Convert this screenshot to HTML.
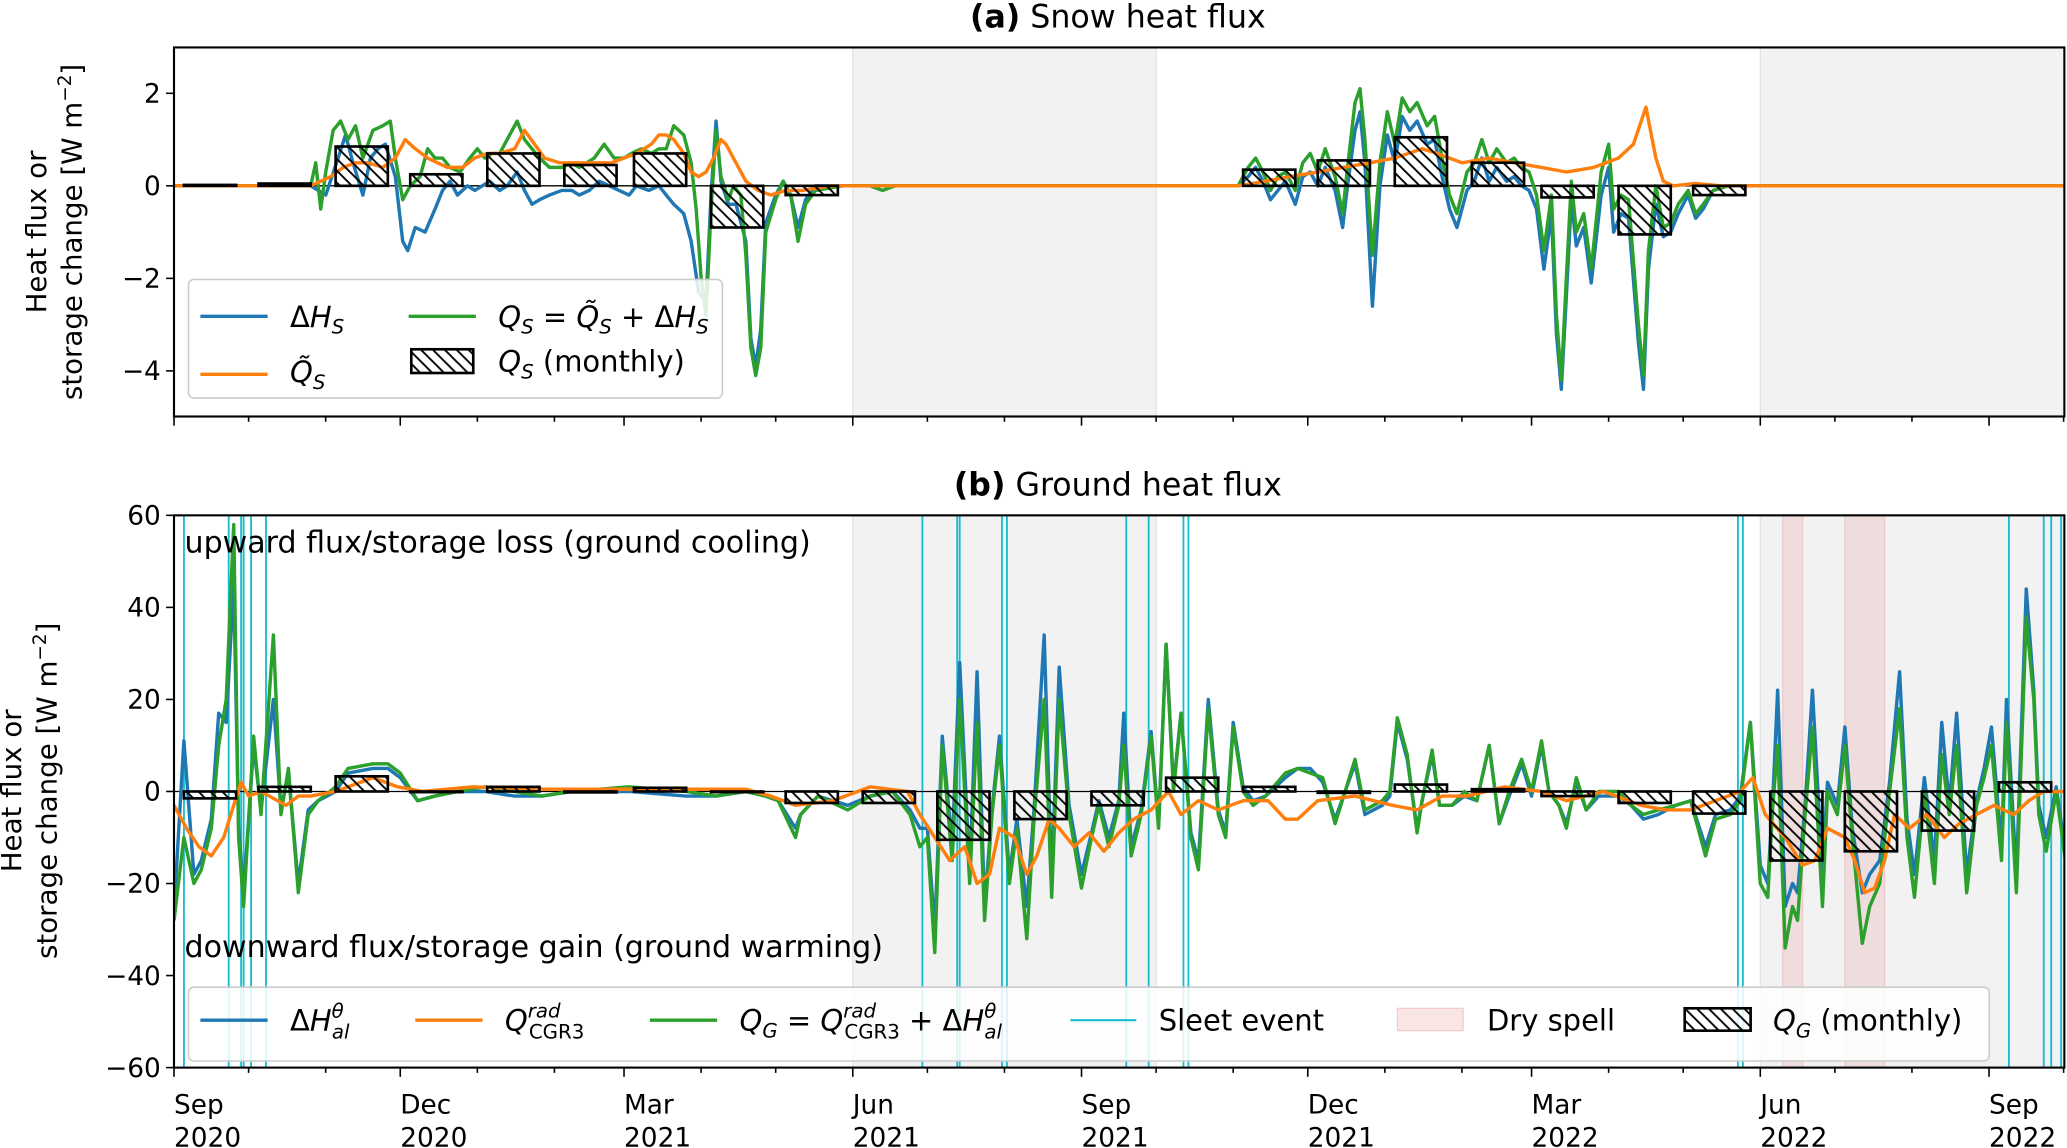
<!DOCTYPE html>
<html><head><meta charset="utf-8"><style>
html,body{margin:0;padding:0;background:#fff}
svg{display:block}
text{font-family:"DejaVu Sans","Liberation Sans",sans-serif;fill:#000}
</style></head><body>
<svg id="chart" xmlns="http://www.w3.org/2000/svg" width="2067" height="1148" viewBox="0 0 1568 871" preserveAspectRatio="none">
<defs>
<pattern id="hatch" patternUnits="userSpaceOnUse" width="9" height="9">
<path d="M-2,-2 L11,11 M-2,7 L2,11 M7,-2 L11,2" stroke="#000" stroke-width="1.4"/>
</pattern>
<clipPath id="clipA"><rect x="132" y="36" width="1434" height="280"/></clipPath>
<clipPath id="clipB"><rect x="132" y="391" width="1434" height="419"/></clipPath>
</defs>
<g id="panelA"></g>
<g id="panelB"></g>
</svg>
<script>
// ---------- data (days since 2020-09-01) ----------
const monthBarsA = [0.02,0.05,0.85,0.25,0.7,0.45,0.7,-0.9,-0.2,null,null,null,null,null,0.35,0.55,1.05,0.5,-0.25,-1.05,-0.2,null,null,null,null];
const monthBarsB = [-1.5,1,3.3,-0.1,1,-0.2,0.8,0,-2.5,-2.5,-10.5,-6,-3,3,1,-0.3,1.5,0.5,-1,-2.5,-4.8,-15,-13,-8.5,2];
const grayPeriods = [[273,395],[638,761]];
const drySpells = [[647,655],[672,688]];
const sleetDays = [4,22,27,28,31,37,301,315,316,333,335,383,392,406,408,629,631,738,752,755,759];

const aGreenDays = [0,55,57,59,61,64,67,70,73,76,80,84,87,89,92,95,99,102,105,108,111,115,119,122,125,128,131,134,138,141,144,147,151,156,160,163,166,169,173,177,181,184,188,192,195,198,201,205,208,210,212,214,216,218,220,223,225,228,230,232,234,236,238,242,245,248,251,254,258,269,280,285,290,
428,432,435,438,441,444,447,451,454,457,460,463,467,470,472,475,477,479,482,485,488,491,494,497,500,504,507,510,513,516,520,523,526,529,532,536,539,542,545,548,551,554,556,558,560,562,564,567,570,574,577,579,582,585,589,591,593,596,599,602,605,609,612,615,619,625,640,761];
const aGreenVals = [0,0,0.5,-0.5,0.3,1.2,1.4,1.0,1.3,0.6,1.2,1.3,1.4,0.6,-0.3,0.0,0.2,0.8,0.6,0.6,0.4,0.3,0.6,0.8,0.6,0.7,0.7,1.0,1.4,1.0,0.8,0.6,0.4,0.4,0.5,0.4,0.5,0.6,0.9,0.6,0.6,0.7,0.8,0.7,0.8,0.8,1.3,1.1,0.5,-0.5,-2.0,-2.8,-0.5,1.2,0.2,-0.3,0.0,-0.2,-1.5,-3.5,-4.1,-3.5,-1.0,-0.3,0.1,-0.2,-1.2,-0.4,-0.1,0.0,0.0,-0.1,0,
0,0.4,0.6,0.3,-0.1,0.2,0.3,-0.1,0.5,0.7,0.3,0.8,0.2,-0.6,0.4,1.8,2.1,1.0,-1.5,0.5,1.6,0.9,1.9,1.6,1.8,1.3,1.5,0.6,-0.2,-0.6,0.3,0.5,1.0,0.5,0.8,0.5,0.6,0.4,0.3,-0.2,-1.4,-0.2,-2.8,-4.2,-2.0,0.1,-1.0,-0.6,-1.8,0.3,0.9,-0.5,-0.2,-0.3,-3.0,-4.1,-1.4,0.0,-0.9,-0.8,-0.4,-0.1,-0.6,-0.4,-0.1,0,0,0];
const aBlueDays = [0,55,61,66,69,72,76,79,82,85,89,92,94,97,101,105,108,111,114,118,121,124,127,131,134,138,141,144,147,151,156,160,163,167,171,175,179,183,186,191,195,198,201,205,208,211,214,216,218,220,223,226,230,232,234,236,238,242,245,248,251,254,258,290,
428,432,435,438,441,444,447,451,454,457,460,463,467,470,472,475,477,479,482,485,488,491,494,497,500,504,507,510,513,516,520,523,526,529,532,536,539,542,545,548,551,554,556,558,560,562,564,567,570,574,577,579,582,585,589,591,593,596,599,602,605,609,612,615,619,625,640,761];
const aBlueVals = [0,0,-0.2,0.6,1.1,0.5,-0.2,0.6,0.8,0.9,0.2,-1.2,-1.4,-0.9,-1.0,-0.5,-0.1,0.1,-0.2,0.0,-0.1,0.0,0.1,-0.1,0.0,0.3,-0.1,-0.4,-0.3,-0.2,-0.1,-0.1,-0.2,-0.1,0.1,0.0,-0.1,-0.2,0.0,-0.1,0.0,-0.2,-0.4,-0.6,-1.2,-2.3,-2.5,-0.2,1.4,0.1,-0.4,-0.4,-1.2,-3.3,-3.9,-3.1,-0.8,-0.2,0.1,-0.2,-0.9,-0.3,0,0,
0,0.2,0.4,0.1,-0.3,-0.1,0.1,-0.4,0.2,0.3,0.0,0.4,-0.1,-0.9,0.0,1.2,1.6,0.5,-2.6,0.0,1.1,0.5,1.5,1.2,1.4,0.9,1.0,0.2,-0.5,-0.9,-0.1,0.1,0.6,0.1,0.4,0.1,0.2,0.0,-0.1,-0.5,-1.8,-0.6,-3.2,-4.4,-2.4,-0.3,-1.3,-0.9,-2.1,-0.2,0.4,-1.0,-0.6,-0.7,-3.4,-4.4,-1.8,-0.4,-1.1,-1.0,-0.6,-0.2,-0.7,-0.5,-0.1,0,0,0];
const aOrangeDays = [0,55,59,63,68,73,78,84,89,93,97,102,106,110,116,121,126,131,137,141,145,149,155,160,165,171,176,181,186,192,195,198,201,205,208,211,214,217,220,222,226,230,235,240,246,253,264,290,
428,439,449,460,470,481,491,502,508,518,529,539,550,560,571,581,587,592,596,599,603,612,622,640,761];
const aOrangeVals = [0,0,0.1,0.2,0.4,0.5,0.5,0.4,0.6,1.0,0.8,0.6,0.5,0.4,0.4,0.6,0.7,0.7,0.8,1.2,0.9,0.6,0.5,0.5,0.5,0.5,0.5,0.6,0.7,0.9,1.1,1.1,1.0,0.7,0.3,0.2,0.3,0.6,1.0,0.9,0.5,0.1,-0.1,-0.2,-0.1,-0.1,0,0,
0,0.1,0.2,0.3,0.4,0.5,0.6,0.8,0.7,0.5,0.6,0.5,0.4,0.3,0.4,0.6,0.9,1.7,0.6,0.1,0.0,0.05,0,0,0];

const bDays = [0,4,8,11,15,18,21,24,26,28,32,35,40,43,46,50,54,58,65,70,80,86,91,98,105,114,125,137,148,160,183,206,218,230,238,243,250,252,259,271,280,289,296,300,303,306,309,313,316,320,323,326,329,332,336,339,343,346,350,353,
356,360,365,369,372,376,380,382,385,389,393,396,399,402,405,409,412,416,420,423,426,430,434,439,447,452,457,462,467,471,475,479,486,489,492,496,500,502,506,509,514,519,524,529,533,537,542,546,550,553,557,560,564,568,573,581,586,591,597,604,610,616,620,626,630,634,638,641,643,645,648,651,653,656,659,663,665,669,672,675,679,682,686,690,694,697,700,704,708,711,714,717,721,725,728,731,735,737,741,745,748,750,753,757,761];
const bGreenVals = [-28,-10,-20,-17,-8,10,20,58,-10,-25,12,-5,34,-5,5,-22,-5,-2,1,5,6,6,4,-2,-1,0,1,0,-1,0,1,0,-1,0,-1,-2,-10,-5,-1,-4,-1,0,-5,-12,-10,-35,10,-15,20,-20,15,-28,-5,10,-20,-8,-32,-5,20,-23,
20,-5,-21,-10,-3,-12,-3,10,-14,-5,12,-8,32,0,17,-10,-17,18,-5,-10,14,0,-3,-1,4,5,4,3,-7,0,7,-4,-2,0,16,8,-9,-2,9,-3,-3,0,-2,10,-7,0,7,0,11,0,-3,-8,3,-4,0,0,-3,-5,-4,-3,-2,-14,-6,-5,-2,15,-20,-23,-3,10,-34,-25,-28,-5,14,-25,0,-5,10,-10,-33,-25,-20,0,18,-10,-23,0,-20,8,-5,10,-22,-3,3,10,-15,15,-22,38,20,-5,-13,0,-16];
const bBlueVals = [-26,11,-18,-15,-6,17,15,45,-8,-22,10,-4,20,-4,4,-20,-4,-2,0,4,5,5,3,-2,-1,0,0,-1,-1,0,0,-1,-1,0,-1,-2,-8,-5,-1,-3,-1,0,-4,-8,-8,-30,12,-12,28,-18,26,-25,-4,12,-18,-6,-25,-3,34,-20,
27,-3,-18,-9,-2,-10,-2,17,-12,-4,13,-7,32,1,17,-9,-15,20,-4,-9,15,1,-2,-1,3,5,5,2,-6,0,6,-5,-3,-1,15,7,-8,-2,8,-3,-3,-1,-2,10,-7,-1,6,-1,10,0,-3,-7,2,-4,-1,-1,-3,-6,-5,-3,-2,-12,-5,-4,-1,15,-16,-20,-2,22,-25,-20,-22,-3,22,-18,2,-3,14,-8,-22,-18,-15,2,26,-6,-18,3,-15,15,-3,17,-18,-2,5,14,-12,20,-18,44,22,-3,-10,1,-14];
const bOrangeDays = [0,5,10,15,20,24,27,30,35,45,50,55,65,80,90,100,120,150,200,230,240,250,265,280,295,300,306,312,318,323,328,332,338,343,347,352,356,362,368,374,380,386,393,400,405,412,420,430,440,447,452,460,475,490,500,510,520,535,550,560,575,590,600,610,620,630,635,640,648,655,660,665,672,676,680,684,688,692,698,705,712,718,725,732,740,746,752,761];
const bOrangeVals = [-3,-8,-12,-14,-10,-3,2,-1,0,-3,-1,-1,0,3,1,0,1,0.5,0.5,0.5,-1,-3,-2,1,0,-5,-10,-15,-12,-20,-18,-8,-10,-18,-14,-6,-8,-12,-9,-13,-9,-6,-4,0,-5,-2,-4,-2,-2,-6,-6,-2,-1,-3,-4,-1,-1,1,0,-2,0,-3,-4,-4,-2,0,3,-5,-10,-16,-15,-8,-10,-15,-22,-21,-15,-5,-8,-5,-10,-7,-5,-3,-5,-2,0,0];

const yTicksA = [2,0,-2,-4];
const yTicksB = [60,40,20,0,-20,-40,-60];
const xTickLabels = [["Sep","2020"],["Dec","2020"],["Mar","2021"],["Jun","2021"],["Sep","2021"],["Dec","2021"],["Mar","2022"],["Jun","2022"],["Sep","2022"]];

// ---------- scales ----------
const X0=132, X1=1566, D1=760.3;
const xs = d => X0 + d/D1*(X1-X0);
const ya = v => 141 - v*35.1;
const yb = v => 600.5 - v*3.4917;
const NS="http://www.w3.org/2000/svg";
function mk(tag, attrs, parent){const e=document.createElementNS(NS,tag);for(const k in attrs)e.setAttribute(k,attrs[k]);parent.appendChild(e);return e;}
const monthStart=[];for(let m=0;m<26;m++){monthStart.push(Math.round((Date.UTC(2020,8+m,1)-Date.UTC(2020,8,1))/864e5));}

function linePath(days, vals, yf){const n=Math.min(days.length,vals.length);let d='';for(let i=0;i<n;i++){d+=(i?'L':'M')+xs(days[i]).toFixed(1)+','+yf(vals[i]).toFixed(1);}return d;}

function panel(g, top, bot, yf, clip, bars, series, ticks, isB){
  const bg = mk('g',{'clip-path':'url(#'+clip+')'},g);
  
  
  grayPeriods.forEach(p=>{const r=mk('rect',{x:xs(p[0]),y:top,width:xs(p[1])-xs(p[0]),height:bot-top,fill:'#f2f2f2',stroke:'#e4e4e4','stroke-width':1},bg);
    
    });
  if(isB){
    drySpells.forEach(p=>{const r=mk('rect',{x:xs(p[0]),y:top,width:xs(p[1])-xs(p[0]),height:bot-top,fill:'rgba(214,39,40,0.1)',stroke:'rgba(214,39,40,0.15)','stroke-width':1},bg);
      
      });
    sleetDays.forEach(d=>{const l=mk('line',{x1:xs(d),x2:xs(d),y1:top,y2:bot,stroke:'#17becf','stroke-width':1.4},bg);
      
      });
  }
  const z=mk('line',{x1:X0,x2:X1,y1:yf(0),y2:yf(0),stroke:'#000','stroke-width':1},bg);
  
  
  series.forEach(s=>{const p=mk('path',{d:linePath(s.days,s.vals,yf),fill:'none',stroke:s.color,'stroke-width':2.6,'stroke-linejoin':'round'},bg);
    
    });
  bars.forEach((v,i)=>{ if(v===null)return;
    const x=xs(monthStart[i]+4), w=xs(monthStart[i]+25)-x, y0=yf(0), y1=yf(v);
    const r=mk('rect',{x:x,y:Math.min(y0,y1),width:w,height:Math.max(Math.abs(y1-y0),0.5),fill:'url(#hatch)',stroke:'#000','stroke-width':2},bg);
    
    });
  const fr=mk('rect',{x:X0,y:top,width:X1-X0,height:bot-top,fill:'none',stroke:'#000','stroke-width':1.6},g);
  
  
  ticks.forEach(t=>{const y=yf(t);
    mk('line',{x1:X0-6,x2:X0,y1:y,y2:y,stroke:'#000','stroke-width':1.2},g);
    const tx=mk('text',{x:X0-10,y:y+7,'text-anchor':'end','font-size':20},g);
    tx.textContent=String(t).replace('-','\u2212');
    
    });
  monthStart.forEach((d,i)=>{ if(d>D1)return; const x=xs(d); const major=(i%3===0);
    mk('line',{x1:x,x2:x,y1:bot,y2:bot+(major?7:4),stroke:'#000','stroke-width':1.2},g);
    if(isB && major){const lab=xTickLabels[i/3];
      const t=mk('text',{x:x,y:bot+35,'font-size':20},g); t.textContent=lab[0];
      
      
      const t2=mk('text',{x:x,y:bot+60,'font-size':20},g); t2.textContent=lab[1];
      
      }
  });
}
const gA=document.getElementById('panelA'), gB=document.getElementById('panelB');
panel(gA,36,316,ya,'clipA',monthBarsA,[
  {days:aBlueDays,vals:aBlueVals,color:'#1f77b4',name:'delta-hs-line'},
  {days:aGreenDays,vals:aGreenVals,color:'#2ca02c',name:'qs-line'},
  {days:aOrangeDays,vals:aOrangeVals,color:'#ff7f0e',name:'qs-tilde-line'}],yTicksA,false);
panel(gB,391,810,yb,'clipB',monthBarsB,[
  {days:bDays,vals:bBlueVals,color:'#1f77b4',name:'delta-hal-line'},
  {days:bDays,vals:bGreenVals,color:'#2ca02c',name:'qg-line'},
  {days:bOrangeDays,vals:bOrangeVals,color:'#ff7f0e',name:'q-cgr3-line'}],yTicksB,true);
</script>
<svg style="position:absolute;left:0;top:0" width="2067" height="1148" viewBox="0 0 1568 871" preserveAspectRatio="none" xmlns="http://www.w3.org/2000/svg">
<text x="848" y="21" text-anchor="middle" font-size="24"><tspan font-weight="bold">(a)</tspan> Snow heat flux</text>
<text x="848" y="376" text-anchor="middle" font-size="24"><tspan font-weight="bold">(b)</tspan> Ground heat flux</text>
<text transform="translate(35,176) rotate(-90)" text-anchor="middle" font-size="21">Heat flux or</text>
<text transform="translate(62,176) rotate(-90)" text-anchor="middle" font-size="21">storage change [W m<tspan font-size="14" dy="-8">−2</tspan><tspan dy="8">]</tspan></text>
<text transform="translate(16,600) rotate(-90)" text-anchor="middle" font-size="21">Heat flux or</text>
<text transform="translate(43,600) rotate(-90)" text-anchor="middle" font-size="21">storage change [W m<tspan font-size="14" dy="-8">−2</tspan><tspan dy="8">]</tspan></text>
<text x="140" y="419" font-size="22.8">upward flux/storage loss (ground cooling)</text>
<text x="140" y="726" font-size="22.8">downward flux/storage gain (ground warming)</text>

<g>
<rect x="143" y="212" width="405" height="90" rx="4" fill="rgba(255,255,255,0.85)" stroke="#cccccc" stroke-width="1.2"/>
<line x1="152" x2="203" y1="240" y2="240" stroke="#1f77b4" stroke-width="2.6"/>
<text x="220" y="248" font-size="22">Δ<tspan font-style="italic">H</tspan><tspan font-style="italic" font-size="15" dy="5">S</tspan></text>
<line x1="152" x2="203" y1="284" y2="284" stroke="#ff7f0e" stroke-width="2.6"/>
<text x="220" y="290" font-size="22"><tspan font-style="italic">Q̃</tspan><tspan font-style="italic" font-size="15" dy="5">S</tspan></text>
<line x1="310" x2="361" y1="240" y2="240" stroke="#2ca02c" stroke-width="2.6"/>
<text x="378" y="248" font-size="22"><tspan font-style="italic">Q</tspan><tspan font-style="italic" font-size="15" dy="5">S</tspan><tspan dy="-5"> = </tspan><tspan font-style="italic">Q̃</tspan><tspan font-style="italic" font-size="15" dy="5">S</tspan><tspan dy="-5"> + Δ</tspan><tspan font-style="italic">H</tspan><tspan font-style="italic" font-size="15" dy="5">S</tspan></text>
<rect x="312" y="265" width="47" height="18" fill="url(#hatch)" stroke="#000" stroke-width="2"/>
<text x="378" y="282" font-size="22"><tspan font-style="italic">Q</tspan><tspan font-style="italic" font-size="15" dy="5">S</tspan><tspan dy="-5"> (monthly)</tspan></text>
</g>

<g>
<rect x="143" y="749" width="1366" height="56" rx="4" fill="rgba(255,255,255,0.85)" stroke="#cccccc" stroke-width="1.2"/>
<line x1="152" x2="203" y1="774" y2="774" stroke="#1f77b4" stroke-width="2.6"/>
<text x="220" y="782" font-size="22">Δ<tspan font-style="italic">H</tspan><tspan font-style="italic" font-size="15" dy="-10">θ</tspan><tspan font-style="italic" font-size="15" dx="-9" dy="16">al</tspan></text>
<line x1="315" x2="366" y1="774" y2="774" stroke="#ff7f0e" stroke-width="2.6"/>
<text x="383" y="782" font-size="22"><tspan font-style="italic">Q</tspan><tspan font-style="italic" font-size="15" dy="-10">rad</tspan><tspan font-size="15" dx="-24" dy="16">CGR3</tspan></text>
<line x1="493" x2="544" y1="774" y2="774" stroke="#2ca02c" stroke-width="2.6"/>
<text x="561" y="782" font-size="22"><tspan font-style="italic">Q</tspan><tspan font-style="italic" font-size="15" dy="5">G</tspan><tspan dy="-5"> = </tspan><tspan font-style="italic">Q</tspan><tspan font-style="italic" font-size="15" dy="-10">rad</tspan><tspan font-size="15" dx="-24" dy="16">CGR3</tspan><tspan dy="-6"> + Δ</tspan><tspan font-style="italic">H</tspan><tspan font-style="italic" font-size="15" dy="-10">θ</tspan><tspan font-style="italic" font-size="15" dx="-9" dy="16">al</tspan></text>
<line x1="812" x2="862" y1="774" y2="774" stroke="#17becf" stroke-width="1.6"/>
<text x="879" y="782" font-size="22">Sleet event</text>
<rect x="1060" y="765" width="50" height="17" fill="rgba(214,39,40,0.12)" stroke="rgba(214,39,40,0.18)"/>
<text x="1128" y="782" font-size="22">Dry spell</text>
<rect x="1278" y="765" width="50" height="17" fill="url(#hatch)" stroke="#000" stroke-width="2"/>
<text x="1345" y="782" font-size="22"><tspan font-style="italic">Q</tspan><tspan font-style="italic" font-size="15" dy="5">G</tspan><tspan dy="-5"> (monthly)</tspan></text>
</g>
</svg>
</body></html>
